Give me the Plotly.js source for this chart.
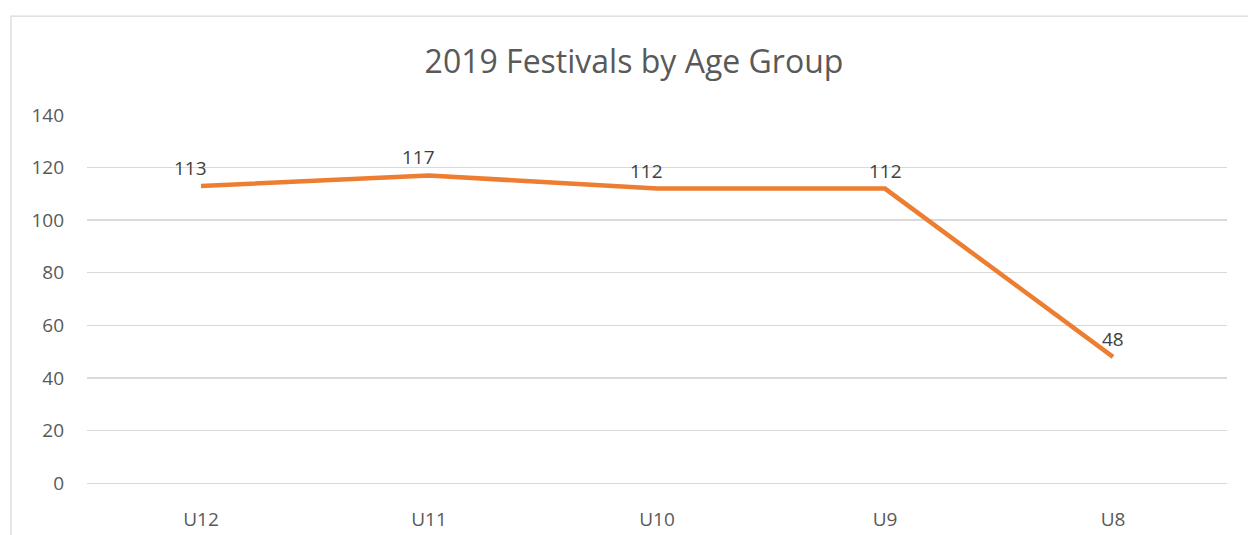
<!DOCTYPE html>
<html>
<head>
<meta charset="utf-8">
<script src="https://cdn.plot.ly/plotly-3.0.1.min.js"></script>
<style>html,body{margin:0;padding:0;background:#fff;overflow:hidden}#chart{width:1248px;height:535px}</style>
</head>
<body>
<div id="chart"></div>
<script>
const categories = ["U12", "U11", "U10", "U9", "U8"];
const festivals = [113, 117, 112, 112, 48];
const yTicks = [0, 20, 40, 60, 80, 100, 120, 140];
const labelShift = [-11, -11, -11, 0, 0];

const font = "Open Sans, sans-serif";
const grey = "#595959";

const annotations = categories.map((c, i) => ({
  x: c, y: festivals[i], xref: "x", yref: "y",
  text: String(festivals[i]), showarrow: false,
  xshift: labelShift[i], yshift: 18,
  font: {family: font, size: 19, color: "#404040"}
}));

const trace = {
  x: categories, y: festivals, type: "scatter", mode: "lines",
  line: {color: "#ED7D31", width: 4.5},
  hoverinfo: "none", cliponaxis: false
};

const layout = {
  width: 1248, height: 535,
  margin: {l: 87, r: 21, t: 115, b: 52},
  paper_bgcolor: "#fff", plot_bgcolor: "#fff",
  showlegend: false,
  title: {text: "2019 Festivals by Age Group", x: 0.508, xanchor: "center", y: 0.885, yanchor: "middle",
          font: {family: font, size: 32, color: grey}},
  xaxis: {type: "category", categoryorder: "array", categoryarray: categories, range: [-0.5, 4.5],
          showgrid: false, zeroline: false, showline: true, linecolor: "#d9d9d9", linewidth: 1.3, ticks: "",
          tickfont: {family: font, size: 19, color: grey}, ticklabelstandoff: 19},
  yaxis: {range: [0, 140], tickvals: yTicks, showgrid: true, gridcolor: "#d9d9d9", gridwidth: 1.3,
          zeroline: false, showline: false, ticks: "",
          tickfont: {family: font, size: 19, color: grey}, ticklabelstandoff: 22},
  annotations: annotations,
  shapes: [{type: "rect", xref: "paper", yref: "paper", x0: -0.0667, x1: 1.03, y0: -0.2, y1: 1.2685,
            line: {color: "#d9d9d9", width: 1.3}, fillcolor: "rgba(0,0,0,0)", layer: "below"}]
};

Plotly.newPlot("chart", [trace], layout, {displayModeBar: false, staticPlot: true});
</script>
</body>
</html>
